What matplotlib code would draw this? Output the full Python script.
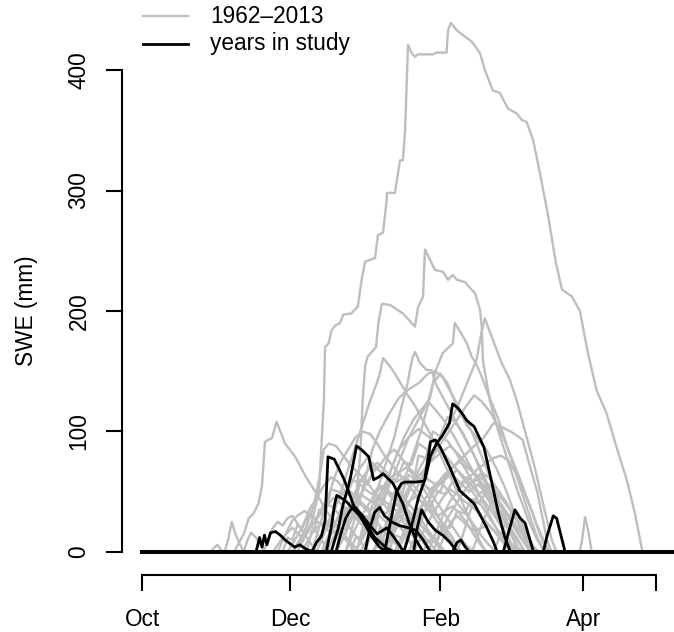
import matplotlib
matplotlib.use("Agg")
import matplotlib.pyplot as plt

# Snow water equivalent (mm) by day of the water year (day 0 = 1 Oct).
# Each season is a list of (day, swe) breakpoints; outside them SWE is zero.
season_start = 0
season_end = 226

# --- all winters 1962-2013 -------------------------------------------------
deep_winters = [
    [(62, 0), (66, 10), (70, 25), (73, 50), (75, 126), (75.5, 170), (76.9, 173), (78.2, 184),
     (79.7, 188), (81.7, 190), (83, 197), (86.3, 198), (89, 203.6), (90.6, 226), (92, 241),
     (96.1, 244), (97.3, 263), (99.4, 265), (100.9, 292), (101, 298), (104.3, 298), (106.4, 325),
     (107.6, 325), (108.5, 350), (109.7, 421), (111.2, 414), (112.6, 411), (113.8, 413),
     (120, 413), (121.5, 414.5), (125.6, 414.5), (126.2, 433), (127.4, 439), (129.8, 433),
     (136, 423.5), (139.4, 414), (141.4, 400), (144.7, 383), (147.6, 381), (150.9, 368),
     (154.5, 364), (156.6, 358.5), (158.6, 357), (161.3, 342), (164.1, 314.5), (167.4, 280),
     (170.7, 240), (173.2, 218), (177.3, 212), (180.6, 200), (183.9, 165), (187.5, 134),
     (191.6, 115), (195.7, 87), (199.9, 60), (203.3, 32), (206, 4), (206.6, 0)],
    [(80, 0), (84, 15), (88, 40), (90, 80), (91, 126), (92, 154), (93, 162), (96.5, 170),
     (97.5, 190), (98.9, 206), (102.3, 205), (107.6, 198), (112.6, 187), (113.8, 203),
     (115.9, 212), (116.7, 251), (117.5, 248), (120.8, 234), (124.1, 232.6), (126.2, 226),
     (128.2, 230), (129.8, 226), (133.2, 224), (135.3, 219), (137.3, 215), (139.4, 201),
     (140.1, 187), (140.6, 159), (143.5, 125), (147, 100), (151, 75), (155, 50), (159, 28),
     (163, 10), (166, 0)],
    [(100, 0), (104, 20), (108, 40), (112, 60), (116, 75), (120, 85), (125, 100), (130, 120),
     (134, 140), (138, 160), (140, 182), (141.4, 194), (144.7, 176), (148.3, 157), (151.7, 143),
     (154.5, 126), (158, 100), (162, 70), (166, 35), (169, 10), (171, 0)],
    [(95, 0), (99, 15), (104, 40), (110, 70), (115, 100), (119, 130), (121, 150), (124, 165),
     (126.5, 170), (128.2, 173), (129, 190), (131.5, 182), (134, 173), (136, 162), (137.6, 157),
     (139.6, 148), (143, 130), (147, 110), (151, 85), (155, 60), (159, 35), (163, 12), (166, 0)],
    [(88, 0), (92, 20), (96, 45), (100, 70), (104, 95), (107, 120), (109.5, 140), (110.5, 151),
     (111.7, 162), (112.6, 166), (114.6, 157), (117.4, 151), (119.5, 151), (121, 140), (125, 125),
     (129, 110), (133, 95), (137, 80), (141, 60), (145, 40), (149, 20), (152, 5), (154, 0)],
    [(70, 0), (74, 15), (78, 30), (82, 50), (86, 75), (90, 100), (94, 125), (96.8, 140),
     (98.1, 148), (99.4, 161), (102.3, 154), (104.3, 148), (106.4, 141), (109, 132), (113, 120),
     (117, 105), (121, 90), (125, 72), (130, 50), (135, 28), (139, 10), (142, 0)],
]

moderate_winters = [
    [(38, 0), (40, 8), (42, 15), (44, 28), (46, 32), (48, 40), (49.5, 55), (50.7, 91.5),
     (53.6, 94.6), (55.5, 108), (59, 90), (63.2, 79), (67.7, 62), (71.8, 49), (75, 38),
     (78, 28), (82, 18), (86, 8), (90, 0)],
    [(84, 0), (88, 30), (92, 60), (95, 85), (98, 100), (102, 115), (106, 128), (110, 135),
     (114, 140), (118, 148), (121, 150), (124, 145), (128, 130), (132, 115), (136, 100),
     (140, 80), (144, 60), (148, 38), (152, 18), (155, 0)],
    [(90, 0), (94, 15), (98, 35), (102, 55), (106, 75), (110, 95), (114, 110), (118, 125),
     (120, 140), (123, 148), (126, 140), (130, 120), (134, 105), (138, 95), (142, 85),
     (146, 70), (150, 52), (154, 30), (158, 10), (161, 0)],
    [(105, 0), (109, 15), (113, 30), (117, 45), (121, 55), (125, 65), (129, 72), (133, 80),
     (137, 88), (141, 95), (145, 107), (148, 104), (152, 100), (155, 96), (157, 93), (160, 71),
     (163, 50), (165, 30), (167, 10), (169, 0)],
    [(100, 0), (105, 20), (110, 40), (115, 60), (120, 80), (125, 95), (130, 110), (134, 122),
     (137, 130), (140, 125), (144, 115), (148, 100), (152, 80), (156, 60), (160, 38), (164, 15),
     (167, 0)],
    [(88, 0), (92, 15), (96, 35), (100, 55), (104, 75), (108, 95), (112, 110), (116, 120),
     (118, 125), (121, 118), (125, 108), (129, 95), (133, 80), (137, 65), (141, 50), (145, 35),
     (149, 18), (153, 5), (156, 0)],
    [(70, 0), (73, 20), (76, 40), (79, 60), (82, 75), (85, 85), (88, 95), (91, 100), (94, 98),
     (97, 90), (100, 80), (104, 70), (108, 60), (112, 50), (116, 40), (120, 30), (124, 18),
     (128, 8), (132, 0)],
    [(92, 0), (96, 25), (100, 50), (103, 70), (106, 85), (110, 95), (114, 102), (118, 96),
     (122, 88), (126, 78), (130, 68), (134, 57), (138, 45), (142, 32), (146, 20), (150, 8),
     (153, 0)],
    [(75, 0), (78, 15), (81, 30), (84, 45), (87, 60), (90, 70), (93, 78), (96, 72), (99, 65),
     (102, 60), (106, 50), (110, 40), (114, 30), (118, 18), (122, 8), (125, 0)],
    [(60, 0), (63, 10), (66, 20), (69, 35), (72, 45), (75, 55), (78, 62), (81, 58), (84, 50),
     (87, 45), (90, 40), (94, 32), (98, 22), (102, 12), (106, 4), (109, 0)],
    [(95, 0), (99, 10), (103, 25), (107, 40), (111, 55), (115, 65), (119, 75), (123, 82),
     (127, 88), (131, 80), (135, 70), (139, 60), (143, 48), (147, 35), (151, 22), (155, 10),
     (158, 0)],
    [(80, 0), (83, 12), (86, 25), (89, 40), (92, 55), (95, 65), (98, 72), (101, 80), (104, 85),
     (107, 78), (110, 70), (114, 62), (118, 52), (122, 40), (126, 28), (130, 15), (134, 5),
     (137, 0)],
    [(110, 0), (113, 15), (116, 30), (119, 45), (122, 55), (125, 62), (128, 70), (131, 75),
     (134, 70), (138, 64), (142, 58), (146, 50), (150, 40), (154, 28), (158, 15), (161, 5),
     (163, 0)],
    [(100, 0), (103, 20), (106, 35), (109, 50), (112, 60), (115, 65), (118, 60), (122, 55),
     (126, 62), (130, 68), (134, 60), (138, 50), (142, 40), (146, 28), (150, 15), (153, 5),
     (155, 0)],
    [(118, 0), (121, 15), (124, 30), (127, 42), (130, 50), (133, 58), (136, 64), (139, 70),
     (142, 74), (145, 78), (148, 80), (151, 76), (154, 66), (157, 52), (160, 38), (163, 22),
     (166, 8), (168, 0)],
    [(62, 0), (65, 10), (68, 22), (71, 40), (73, 60), (75, 85), (77, 90), (80, 88), (83, 80),
     (86, 72), (89, 66), (92, 60), (95, 52), (98, 44), (102, 34), (106, 22), (110, 10), (113, 0)],
    [(76, 0), (79, 12), (82, 24), (85, 36), (88, 50), (91, 62), (94, 70), (97, 74), (100, 68),
     (103, 62), (106, 66), (109, 70), (112, 64), (115, 56), (118, 46), (121, 34), (124, 22),
     (127, 10), (130, 0)],
    [(86, 0), (88, 12), (90, 12), (92, 30), (95, 28), (97, 45), (100, 44), (102, 62), (105, 60),
     (108, 75), (111, 72), (114, 90), (117, 86), (120, 80), (123, 96), (126, 92), (129, 84),
     (133, 70), (137, 56), (141, 40), (145, 24), (149, 10), (152, 0)],
    [(96, 0), (98, 20), (101, 18), (103, 40), (106, 38), (109, 60), (112, 58), (114, 80),
     (117, 78), (120, 100), (123, 96), (126, 112), (129, 108), (132, 100), (135, 88), (139, 72),
     (143, 54), (147, 36), (151, 18), (155, 4), (157, 0)],
    [(102, 0), (104, 14), (107, 12), (110, 28), (113, 26), (116, 40), (119, 38), (122, 50),
     (125, 48), (128, 58), (131, 56), (134, 62), (137, 58), (140, 66), (143, 62), (146, 54),
     (150, 42), (154, 28), (158, 14), (161, 4), (163, 0)],
    [(80, 0), (82, 20), (84, 18), (86, 40), (88, 38), (90, 60), (93, 56), (96, 70), (99, 66),
     (102, 62), (105, 58), (108, 62), (111, 58), (114, 50), (117, 42), (120, 34), (124, 24),
     (128, 12), (131, 0)],
    [(92, 0), (94, 18), (96, 16), (98, 34), (101, 32), (104, 50), (107, 48), (110, 64),
     (113, 60), (116, 56), (119, 52), (122, 58), (125, 54), (128, 46), (131, 38), (135, 28),
     (139, 16), (143, 6), (146, 0)],
]

shallow_winters = [
    [(64, 0), (67, 12), (70, 22), (73, 30), (76, 38), (79, 45), (82, 40), (85, 35), (88, 30),
     (92, 24), (96, 16), (100, 8), (104, 0)],
    [(84, 0), (87, 15), (90, 28), (93, 38), (96, 48), (99, 55), (102, 50), (105, 44), (108, 38),
     (112, 30), (116, 20), (120, 10), (124, 0)],
    [(112, 0), (115, 12), (118, 25), (121, 35), (124, 45), (127, 52), (130, 48), (133, 42),
     (136, 38), (139, 32), (142, 25), (145, 18), (148, 10), (151, 3), (153, 0)],
    [(72, 0), (75, 15), (78, 28), (80, 38), (82, 48), (85, 52), (88, 46), (91, 40), (94, 35),
     (97, 38), (100, 42), (104, 36), (108, 28), (112, 18), (116, 8), (119, 0)],
    [(120, 0), (123, 15), (126, 28), (129, 38), (132, 48), (135, 56), (138, 62), (141, 55),
     (144, 48), (147, 40), (150, 32), (153, 22), (156, 12), (159, 4), (161, 0)],
    [(56, 0), (58, 10), (60, 18), (62, 26), (64, 30), (67, 34), (70, 30), (73, 24), (76, 20),
     (79, 24), (82, 28), (85, 22), (88, 14), (91, 6), (94, 0)],
    [(98, 0), (101, 12), (104, 24), (107, 34), (110, 42), (113, 46), (116, 40), (119, 34),
     (122, 30), (125, 34), (128, 38), (131, 32), (134, 24), (137, 14), (140, 5), (142, 0)],
    [(130, 0), (132, 12), (134, 25), (136, 38), (138, 46), (140, 50), (143, 44), (146, 38),
     (149, 30), (152, 20), (155, 10), (158, 0)],
    [(66, 0), (68, 8), (70, 15), (72, 20), (74, 24), (76, 20), (78, 15), (80, 18), (82, 14),
     (85, 8), (88, 0)],
    [(104, 0), (106, 8), (108, 16), (110, 22), (112, 28), (114, 24), (116, 20), (118, 16),
     (120, 10), (123, 4), (125, 0)],
    [(34, 0), (35.5, 10), (37, 25), (38.5, 15), (40, 8), (42, 0)],
    [(28, 0), (29.5, 3), (31, 6), (32.5, 2), (34, 0)],
    [(42, 0), (43.5, 10), (45, 16), (47, 12), (49, 6), (51, 0)],
    [(50, 0), (52, 10), (54, 20), (56, 25), (58, 22), (60, 28), (62, 30), (64, 24), (66, 18),
     (68, 12), (70, 6), (72, 0)],
    [(145, 0), (147, 10), (149, 20), (151, 28), (153, 34), (155, 30), (157, 22), (159, 14),
     (161, 6), (163, 0)],
    [(180.5, 0), (181.5, 10), (182.7, 29), (184, 18), (185.5, 0)],
    [(54, 0), (56, 6), (58, 12), (60, 16), (62, 20), (64, 16), (66, 12), (68, 18), (70, 22),
     (72, 16), (74, 10), (76, 4), (78, 0)],
    [(88, 0), (90, 10), (92, 20), (94, 28), (96, 34), (98, 30), (100, 26), (102, 22), (104, 26),
     (106, 30), (108, 24), (110, 18), (113, 10), (116, 0)],
    [(122, 0), (124, 10), (126, 20), (128, 26), (130, 30), (132, 26), (134, 22), (137, 18),
     (140, 20), (143, 22), (146, 16), (149, 8), (152, 0)],
    [(136, 0), (138, 10), (140, 22), (142, 32), (144, 40), (146, 45), (148, 40), (150, 34),
     (152, 28), (155, 20), (158, 12), (161, 5), (164, 0)],
    [(68, 0), (70, 18), (71, 18), (73, 35), (76, 35), (78, 52), (81, 50), (84, 46), (86, 60),
     (89, 58), (92, 52), (95, 48), (98, 55), (101, 50), (105, 40), (109, 30), (113, 18),
     (117, 6), (120, 0)],
    [(74, 0), (76, 10), (79, 22), (81, 20), (84, 36), (87, 34), (90, 48), (93, 44), (96, 40),
     (99, 52), (102, 50), (105, 44), (108, 36), (112, 26), (116, 14), (120, 4), (122, 0)],
    [(58, 0), (60, 12), (62, 10), (64, 22), (66, 20), (69, 30), (72, 28), (75, 40), (78, 38),
     (81, 32), (84, 26), (87, 30), (90, 24), (94, 16), (98, 8), (101, 0)],
    [(108, 0), (110, 20), (112, 18), (114, 36), (117, 34), (120, 52), (123, 50), (126, 66),
     (129, 62), (132, 56), (135, 50), (138, 56), (141, 52), (144, 44), (147, 34), (150, 24),
     (153, 14), (156, 6), (158, 0)],
    [(116, 0), (118, 10), (121, 8), (124, 22), (127, 20), (130, 34), (133, 32), (136, 44),
     (139, 40), (142, 50), (145, 46), (148, 40), (151, 30), (154, 20), (157, 10), (160, 0)],
]

# --- winters covered by the study -----------------------------------------
study_winters = [
    [(108, 0), (111, 20), (114, 45), (117, 62), (119, 80), (121.5, 90), (124, 97), (126, 104),
     (126.8, 107), (128.1, 123), (130, 120), (132, 115), (134, 109), (137, 104), (141, 87),
     (144, 60), (147, 32), (149.5, 13), (152, 0)],
    [(100, 0), (103, 30), (105, 50), (107, 57), (108.5, 58), (113, 58), (116.5, 59),
     (119, 91.5), (121, 93), (123, 87), (127, 70), (131, 51), (137, 40), (142, 21),
     (145, 8), (146.5, 0)],
    [(78, 0), (81, 20), (83, 40), (85, 54), (86, 62), (88.5, 88), (91, 84), (93.5, 79),
     (95.5, 60), (97.5, 62), (99.4, 65), (103.5, 57), (107.6, 40), (110, 25), (113, 10),
     (116, 0)],
    [(70, 0), (72, 8), (74, 13), (75.5, 26), (76.7, 79), (79.3, 77), (83.4, 60), (87.5, 37.6),
     (91.6, 24), (95, 12), (98, 4), (101, 0)],
    [(76, 0), (78, 20), (79.5, 40), (80.3, 47), (82, 45), (83.7, 43), (87, 36), (91.2, 27),
     (96, 12), (101, 3), (104, 0)],
    [(80, 0), (82, 15), (84, 28), (86, 35), (88, 37), (91, 30), (94, 22), (97, 15), (101, 20),
     (104, 12), (108, 0)],
    [(47, 0), (48.5, 12), (49.5, 4), (50.5, 14), (51.5, 6), (53, 16), (55, 17), (57, 14),
     (59, 10), (61, 7), (63, 4), (65, 6), (68, 2), (71, 0)],
    [(149, 0), (151, 15), (153.8, 35), (156, 28), (158, 24), (160, 10), (161.5, 0)],
    [(165.5, 0), (167, 13), (169.6, 30), (171, 28), (173, 12), (174.5, 0)],
    [(112, 0), (113.5, 20), (115.3, 35), (118, 25), (121, 18), (124, 14), (127, 8), (130, 0)],
    [(92, 0), (94, 20), (96, 33), (98, 37), (100, 30), (103, 25), (106, 22), (110, 20),
     (113, 18), (116, 10), (119, 0)],
    [(128, 0), (130, 8), (131.5, 10), (133, 5), (135, 0)],
]

month_days = [0, 61, 123, 182, 212]
month_labels = ["Oct", "Dec", "Feb", "Apr", ""]
swe_ticks = [0, 100, 200, 300, 400]
legend_labels = ["1962\u20132013", "years in study"]

GRAY = "#BEBEBE"
FONT = "Liberation Sans"
FS = 16.3
LW_GRAY = 1.7
LW_BLACK = 2.0
LW_AXIS = 1.5

fig = plt.figure(figsize=(6.74, 6.32), dpi=100)
ax = fig.add_axes([0, 0, 1, 1])
ax.set_xlim(-58.56, 219.4)
ax.set_ylim(-66.4, 458.1)
ax.axis("off")


def full_season(points):
    days = [season_start] + [p[0] for p in points] + [season_end]
    swe = [0] + [p[1] for p in points] + [0]
    return days, swe


for group in (deep_winters, moderate_winters, shallow_winters):
    for season in group:
        d, s = full_season(season)
        ax.plot(d, s, color=GRAY, lw=LW_GRAY, solid_joinstyle="round")

for season in study_winters:
    d, s = full_season(season)
    ax.plot(d, s, color="black", lw=LW_BLACK, solid_joinstyle="round")

# x axis (offset below the data)
x_axis_y = -19.1
x_tick_end = -31.5
ax.plot([month_days[0], month_days[-1]], [x_axis_y, x_axis_y], color="black", lw=LW_AXIS,
        clip_on=False, solid_capstyle="butt")
for d, lab in zip(month_days, month_labels):
    ax.plot([d, d], [x_axis_y, x_tick_end], color="black", lw=LW_AXIS, clip_on=False)
    if lab:
        ax.text(d, -56.4, lab, ha="center", va="center", fontsize=FS, family=FONT)

# y axis
y_axis_x = -8.25
y_tick_end = -14.4
ax.plot([y_axis_x, y_axis_x], [swe_ticks[0], swe_ticks[-1]], color="black", lw=LW_AXIS,
        clip_on=False, solid_capstyle="butt")
for v in swe_ticks:
    ax.plot([y_axis_x, y_tick_end], [v, v], color="black", lw=LW_AXIS, clip_on=False)
    ax.text(-26.0, v, str(v), ha="center", va="center", rotation=90, fontsize=FS, family=FONT)
ax.text(-47.5, 200, "SWE (mm)", ha="center", va="center", rotation=90, fontsize=FS,
        family=FONT)

# legend
leg_x0, leg_x1 = 0.4, 19.0
for y_leg, col, lw, lab in zip([444.8, 421.6], [GRAY, "black"], [LW_GRAY, LW_BLACK],
                               legend_labels):
    ax.plot([leg_x0, leg_x1], [y_leg, y_leg], color=col, lw=lw, clip_on=False)
    ax.text(28.0, y_leg, lab, ha="left", va="center", fontsize=FS, family=FONT)

fig.savefig("out.png", dpi=100)
